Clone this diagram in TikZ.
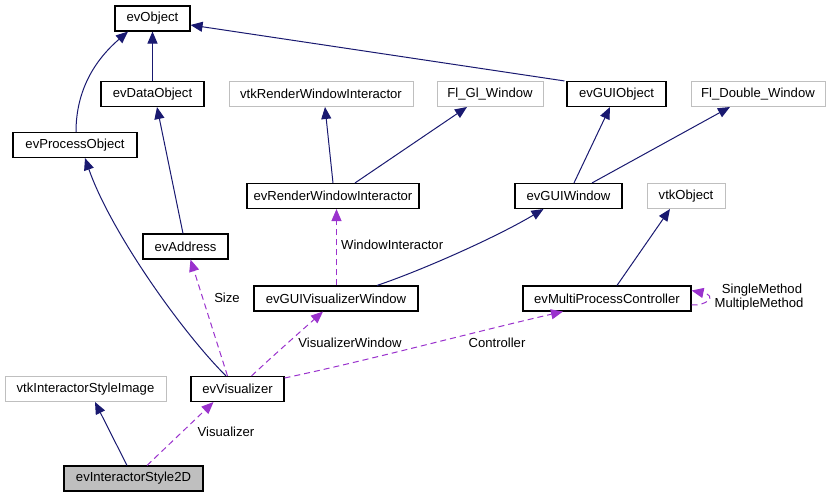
\documentclass[tikz,border=0pt]{standalone}
\usepackage{fontspec}
\setmainfont{Liberation Sans}
\usetikzlibrary{arrows.meta,calc}
\definecolor{navy}{HTML}{191970}
\definecolor{orchid}{HTML}{9A32CD}
\definecolor{grayline}{HTML}{BFBFBF}
\definecolor{grayfill}{HTML}{BFBFBF}
\begin{document}
\begin{tikzpicture}[x=1pt,y=-1pt,
  every node/.style={font=\fontsize{13.1}{15}\selectfont},
  cls/.style={draw=black, line width=1.1pt, minimum height=25pt, inner sep=0pt, fill=white},
  ext/.style={draw=grayline, line width=1pt, minimum height=25pt, inner sep=0pt, fill=white},
  cur/.style={cls, fill=grayfill},
  inh/.style={draw=navy, line width=1pt, -{Triangle[length=12pt,width=10pt]}},
  use/.style={draw=orchid, line width=1pt, dash pattern=on 6pt off 4pt, -{Triangle[length=12pt,width=10pt]}},
  lbl/.style={inner sep=0pt}]
\useasboundingbox (0,0) rectangle (831,497);
% nodes
\node[cls, minimum width=75pt]  (evObject) at (152.5,18.5) {evObject};
\node[cls, minimum width=103pt] (evDataObject) at (152.5,94) {evDataObject};
\node[ext, minimum width=184pt] (vtkRWI) at (321,94) {vtkRenderWindowInteractor};
\node[ext, minimum width=106pt] (FlGl) at (490,94) {Fl\_Gl\_Window};
\node[cls, minimum width=99pt]  (evGUIObject) at (616.5,94) {evGUIObject};
\node[ext, minimum width=134pt] (FlDouble) at (758,94) {Fl\_Double\_Window};
\node[cls, minimum width=124pt] (evProcessObject) at (75,145) {evProcessObject};
\node[cls, minimum width=107pt] (evGUIWindow) at (568.5,196) {evGUIWindow};
\node[ext, minimum width=78pt]  (vtkObject) at (686,196) {vtkObject};
\node[cls, minimum width=172pt] (evRWI) at (333,196) {evRenderWindowInteractor};
\node[cls, minimum width=85pt]  (evAddress) at (185.5,246.5) {evAddress};
\node[cls, minimum width=164pt] (evGUIVW) at (336,298.5) {evGUIVisualizerWindow};
\node[cls, minimum width=168pt] (evMPC) at (607,298.5) {evMultiProcessController};
\node[ext, minimum width=161pt] (vtkISI) at (85.5,389) {vtkInteractorStyleImage};
\node[cls, minimum width=93pt]  (evVisualizer) at (237.5,389) {evVisualizer};
\node[cur, minimum width=139pt] (evIS2D) at (133.5,478.5) {evInteractorStyle2D};
% inheritance
\draw[inh] (evDataObject.north) -- (evObject.south);
\draw[inh] ([xshift=1pt]evProcessObject.north) .. controls (76,90) and (95,60) .. ([xshift=-24.5pt]evObject.south);
\draw[inh] ([xshift=-2pt]evGUIObject.north west) -- ([yshift=-6.5pt]evObject.east);
\draw[inh] (evRWI.north) -- ([xshift=4pt]vtkRWI.south);
\draw[inh] ([xshift=22pt]evRWI.north) -- ([xshift=-23pt]FlGl.south);
\draw[inh] ([xshift=5.5pt]evGUIWindow.north) -- ([xshift=-6.5pt]evGUIObject.south);
\draw[inh] ([xshift=23.5pt]evGUIWindow.north) -- ([xshift=-28pt]FlDouble.south);
\draw[inh] ([xshift=-2.5pt]evAddress.north) -- ([xshift=4.5pt]evDataObject.south);
\draw[inh] ([xshift=-11.5pt]evVisualizer.north) .. controls (180,330) and (110,230) .. ([xshift=10pt]evProcessObject.south);
\draw[inh] ([xshift=41pt]evGUIVW.north) .. controls (420,271) and (495,238) .. ([xshift=-25pt]evGUIWindow.south);
\draw[inh] ([xshift=10pt]evMPC.north) -- ([xshift=-16pt]vtkObject.south);
\draw[inh] ([xshift=-6.5pt]evIS2D.north) -- ([xshift=9.5pt]vtkISI.south);
% usage
\draw[use] ([xshift=0.5pt]evGUIVW.north) -- ([xshift=3.5pt]evRWI.south);
\node[lbl, anchor=west] (lWI) at (341,245) {WindowInteractor};
\draw[use] ([xshift=-10pt]evVisualizer.north) -- ([xshift=5pt]evAddress.south);
\node[lbl] (lSize) at (227,298) {Size};
\draw[use] ([xshift=14pt]evVisualizer.north) .. controls (275,354) and (300,332) .. ([xshift=-13pt]evGUIVW.south);
\node[lbl] (lVW) at (350,343) {VisualizerWindow};
\draw[use] ([yshift=11pt]evVisualizer.east) .. controls (370,360) and (470,333) .. ([xshift=-44pt]evMPC.south);
\node[lbl] (lCtrl) at (497,343) {Controller};
\draw[use] ([xshift=13.5pt]evIS2D.north) -- ([xshift=-24pt]evVisualizer.south);
\node[lbl] (lVis) at (226,432) {Visualizer};
\draw[use] ([yshift=-6.5pt]evMPC.east) .. controls (706,306) and (718,296) .. ([yshift=8pt]evMPC.east);
\node[lbl] (lSM) at (762,290) {SingleMethod};
\node[lbl] (lMM) at (759,304) {MultipleMethod};
\end{tikzpicture}
\end{document}
